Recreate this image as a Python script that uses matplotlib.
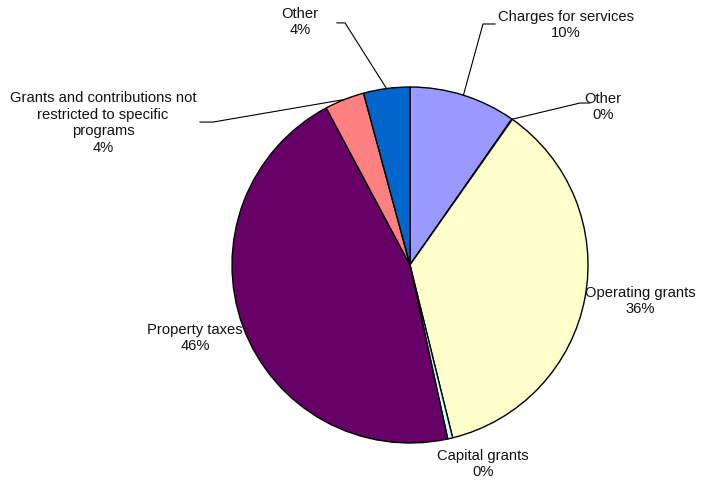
import numpy as np
import matplotlib.pyplot as plt

plt.rcParams['font.family'] = ['Liberation Sans', 'DejaVu Sans']

labels = ['Charges for services', 'Other', 'Operating grants', 'Capital grants',
          'Property taxes', 'Grants and contributions not\nrestricted to specific\nprograms',
          'Other']
values = [9.7, 0.05, 36.4, 0.45, 45.6, 3.6, 4.2]
colors = ['#9999FF', '#993366', '#FFFFCC', '#CCFFFF', '#660066', '#FF8080', '#0066CC']

# label centre, leader elbow and leader end (None = no leader), in pie radius units
label_pos = [(0.876, 1.348), (1.084, 0.888), (1.292, -0.202), (0.41, -1.118),
             (-1.208, -0.41), (-1.725, 0.798), (-0.618, 1.365)]
elbows = [(0.41, 1.354), (0.955, 0.91), None, None, None, (-1.107, 0.803), (-0.365, 1.36)]
ends = [(0.478, 1.354), (1.011, 0.91), None, None, None, (-1.18, 0.803), (-0.41, 1.36)]

fig = plt.figure(figsize=(7.06, 4.83), dpi=100)
ax = fig.add_axes([232 / 706, 40 / 483, 356 / 706, 356 / 483])

wedges, _ = ax.pie(values, colors=colors, startangle=90, counterclock=False,
                   wedgeprops=dict(edgecolor='black', linewidth=1))
ax.set_xlim(-1, 1)
ax.set_ylim(-1, 1)

total = sum(values)
for i, w in enumerate(wedges):
    pct = '%d%%' % round(values[i] / total * 100)
    ax.text(label_pos[i][0], label_pos[i][1], labels[i] + '\n' + pct,
            ha='center', va='center', fontsize=10.6, linespacing=1.25, color='#111111')
    if elbows[i] is not None:
        mid = np.deg2rad((w.theta1 + w.theta2) / 2)
        xs = [np.cos(mid), elbows[i][0], ends[i][0]]
        ys = [np.sin(mid), elbows[i][1], ends[i][1]]
        ax.plot(xs, ys, color='black', linewidth=0.8, clip_on=False)

fig.savefig('out.png', dpi=100)
